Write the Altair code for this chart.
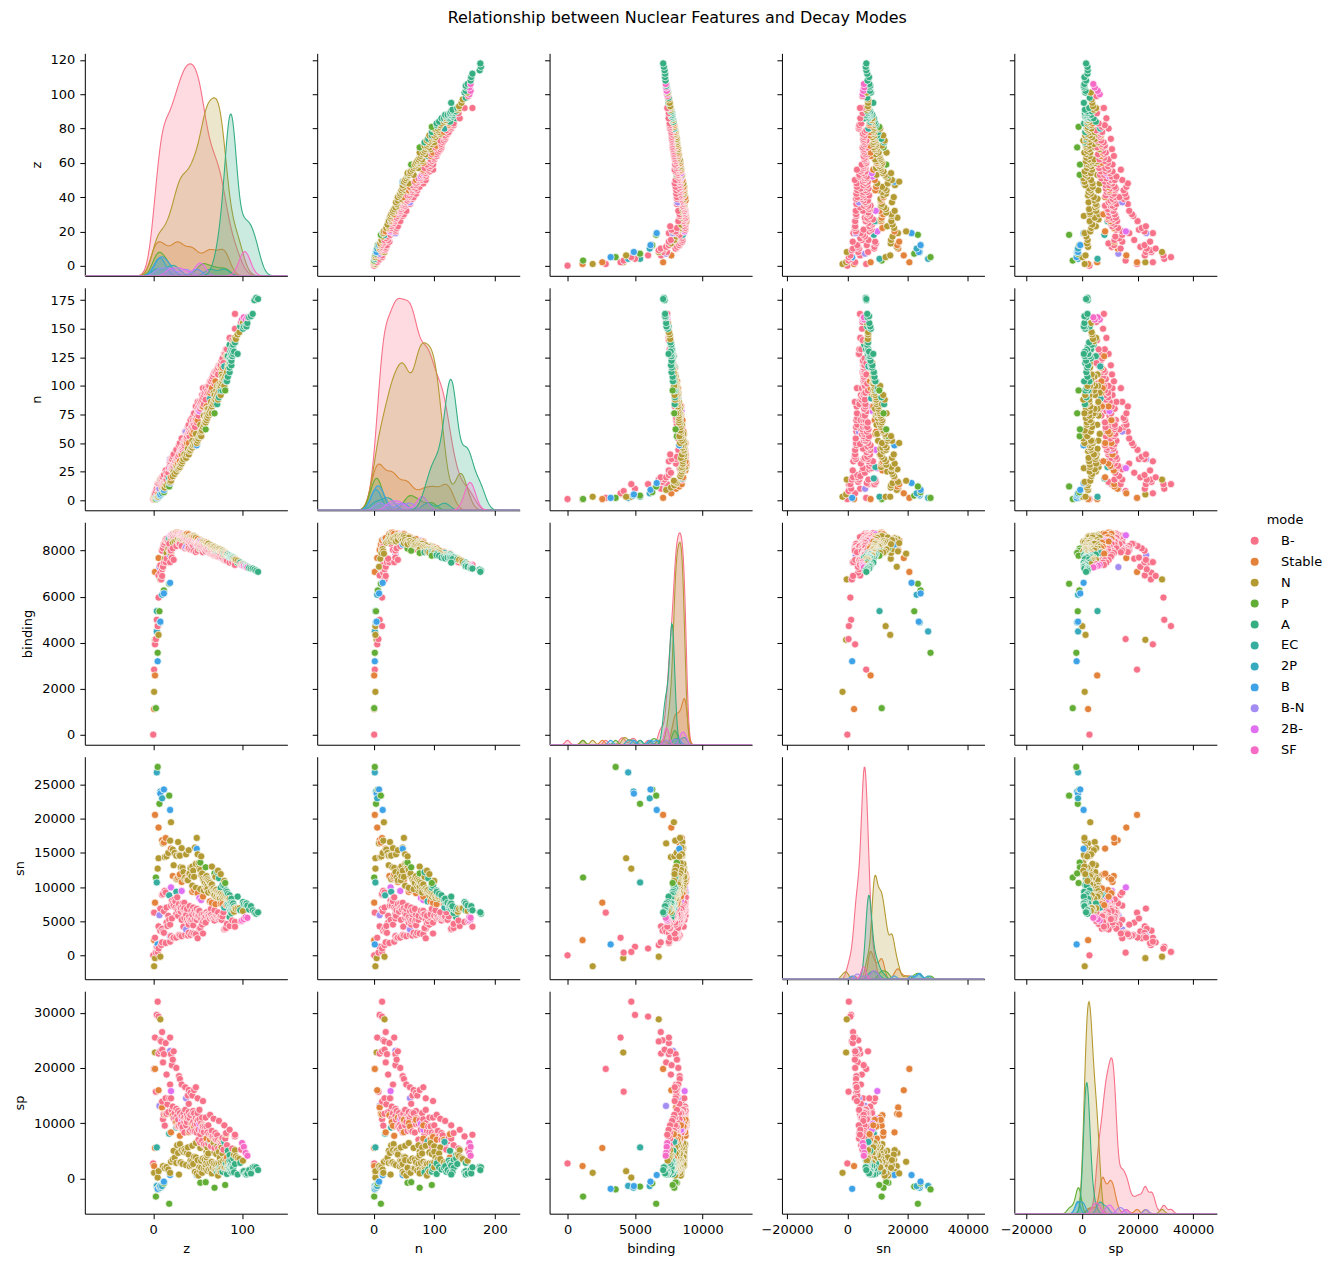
import altair as alt
import pandas as pd

# ---------------- data (values read/estimated from the reference picture) ----------------
# B-  (beta-minus emitters)
bm_z = [0, 1, 2, 3, 4, 5, 6, 8,
        10, 10, 11,
        11, 12, 12, 13, 14, 14, 15, 16, 17, 18,
        19, 20, 20, 21, 22, 22, 23, 24, 25, 26,
        26, 27, 28, 29, 29, 30, 30, 31, 32, 32,
        33, 34, 35, 36, 36, 37, 38, 39, 39, 40,
        40, 41, 42, 42, 43, 44, 44, 45, 46, 46,
        47, 48, 48, 49, 50, 50, 51, 52, 53, 54,
        55, 56, 56, 57, 58, 59, 60, 61, 62, 63,
        64, 65, 66, 67, 68, 69, 70, 71, 72, 73,
        74, 75, 77, 78, 80, 81, 82, 83, 86, 89,
        92, 92, 99,
        25, 27, 28, 31, 33, 34, 35, 37, 38, 41,
        43, 45, 47, 49, 51, 53, 55, 57, 59, 62,
        65, 69, 73, 76, 79,
        6, 8, 9, 10, 19, 21, 23, 15,
        35, 40, 45, 50, 52, 55]
bm_n = [1, 2, 6, 8, 10, 14, 14, 16,
        14, 20, 14,
        20, 15, 22, 16, 18, 26, 18, 21, 24, 28,
        32, 27, 36, 28, 30, 38, 30, 32, 34, 36,
        44, 34, 38, 40, 48, 42, 50, 44, 45, 54,
        46, 49, 52, 52, 60, 54, 56, 58, 64, 58,
        66, 60, 62, 70, 64, 64, 72, 68, 66, 76,
        70, 70, 82, 74, 76, 86, 78, 82, 84, 86,
        88, 90, 98, 92, 94, 98, 94, 96, 100, 100,
        104, 104, 106, 108, 110, 112, 112, 112, 114, 116,
        118, 118, 122, 124, 128, 128, 132, 132, 142, 140,
        150, 163, 156,
        32, 36, 37, 42, 44, 47, 48, 52, 54, 56,
        60, 62, 64, 68, 74, 80, 82, 84, 88, 94,
        96, 102, 110, 118, 120,
        10, 14, 18, 18, 34, 36, 40, 24,
        50, 62, 70, 80, 86, 92]
bm_binding = [0, 2827, 3925, 4155, 4994, 4720, 5960, 7040,
              7993, 6900, 8101,
              7300, 8264, 7500, 8348, 8482, 7500, 8514, 8460, 8400, 8300,
              8030, 8639, 8000, 8686, 8690, 8100, 8650, 8720, 8650, 8640,
              8200, 8756, 8740, 8700, 8300, 8690, 8300, 8660, 8650, 8200,
              8650, 8590, 8530, 8550, 8100, 8500, 8480, 8400, 8100, 8430,
              8100, 8400, 8370, 8050, 8330, 8390, 8050, 8310, 8390, 8000,
              8310, 8370, 7940, 8300, 8340, 8000, 8280, 8290, 8180, 8160,
              8120, 8100, 7930, 8050, 8040, 7970, 8070, 8020, 7960, 7960,
              7900, 7890, 7880, 7850, 7820, 7790, 7800, 7800, 7780, 7750,
              7740, 7740, 7690, 7690, 7590, 7600, 7580, 7560, 7480, 7500,
              7480, 7380, 7410,
              8700, 8700, 8730, 8680, 8680, 8640, 8610, 8580, 8560, 8550,
              8490, 8490, 8470, 8430, 8380, 8300, 8330, 8250, 8200, 8130,
              8100, 8000, 7880, 7820, 7800,
              6922, 7365, 6750, 7190, 7500, 7700, 7600, 7650,
              8560, 8280, 8220, 8250, 8100, 7990]
bm_sn = [0, 6257, 2574, 396, 1260, 500, 1000, 3610,
         8870, 1900, 9000,
         3500, 6443, 3300, 9440, 9200, 1800, 7000, 4300, 5800, 5200,
         4500, 7276, 2800, 8000, 7600, 2500, 7300, 8200, 7000, 6100,
         2600, 8500, 6600, 7500, 3000, 6700, 2900, 7000, 5200, 2800,
         7100, 4200, 5500, 6200, 3000, 5900, 5300, 4800, 2900, 5600,
         3300, 5200, 5000, 3000, 5200, 6000, 3300, 5000, 6300, 3200,
         5300, 6000, 3100, 5200, 6100, 2500, 6500, 6500, 4000, 5300,
         4700, 5000, 3200, 5400, 5500, 4800, 6300, 6000, 5700, 5800,
         5400, 5900, 5600, 5400, 5400, 5100, 5500, 5800, 5600, 5400,
         5300, 5500, 5200, 5700, 3800, 3900, 4000, 4600, 4300, 5100,
         4900, 4200, 5000,
         7900, 6800, 5800, 6400, 7600, 6700, 7700, 6100, 6800, 7200,
         6500, 7000, 6600, 6800, 5800, 5600, 6000, 6000, 5800, 6000,
         6800, 6600, 6300, 5700, 6300,
         4250, 6850, 1500, 3900, 2000, 5400, 2600, 4800,
         6900, 4500, 4400, 5700, 3900, 4500]
bm_sp = [2700, 19814, 25500, 15700, 29600, 32000, 29300, 25000,
         13900, 26500, 10700,
         21000, 11530, 22500, 9550, 14500, 24500, 11700, 13400, 12000, 14500,
         17000, 14500, 22500, 12300, 13000, 21500, 10900, 11800, 10900, 12600,
         20000, 9400, 12200, 9500, 18500, 11800, 18000, 9800, 11300, 17000,
         9300, 11700, 11000, 12400, 16500, 10600, 11500, 11000, 15000, 12000,
         16000, 10900, 11500, 15500, 9900, 11900, 15000, 10200, 11800, 16000,
         9800, 10900, 16500, 9900, 10500, 14500, 8800, 10700, 8000, 10000,
         8600, 9400, 14000, 8400, 9400, 11000, 9400, 8300, 9600, 8000,
         11500, 7900, 8600, 7600, 10800, 7500, 8200, 7000, 7800, 6900,
         10400, 6600, 6700, 7300, 9600, 7200, 8200, 6000, 8800, 5400,
         7600, 7900, 5200,
         10200, 11300, 10600, 9600, 9000, 10900, 8300, 9600, 10200, 8600,
         8900, 8600, 8500, 8300, 7000, 6500, 6800, 6200, 6000, 6300,
         5800, 5500, 5400, 6000, 5200,
         22600, 23000, 24800, 23300, 25500, 20500, 23000, 18800,
         10300, 13500, 12200, 11800, 12400, 11000]

# Stable
st_z = [1, 2, 2, 6, 10, 12, 14, 20, 22, 26, 28, 30, 32, 38, 40, 44, 46, 50, 56, 60,
        64, 66, 70, 76, 78, 82, 83]
st_n = [1, 1, 2, 6, 10, 12, 14, 20, 26, 30, 32, 34, 40, 50, 50, 58, 60, 70, 82, 82,
        94, 98, 104, 116, 116, 126, 126]
st_binding = [1112, 2573, 7074, 7680, 8032, 8261, 8448, 8551, 8723, 8790, 8781, 8736, 8732,
              8733, 8710, 8610, 8580, 8505, 8393, 8346, 8200, 8170, 8100, 7950, 7930, 7868, 7848]
st_sn = [2225, 7718, 20578, 18721, 16865, 16531, 17180, 15640, 11627, 11197, 11388, 11860,
         10750, 11113, 11970, 9300, 9560, 9100, 8600, 9800, 7900, 7700, 7500, 7560, 7500,
         7368, 7460]
st_sp = [2225, 5493, 19814, 15957, 12844, 11693, 11585, 8328, 11444, 10184, 9532, 7700,
         11000, 10600, 8355, 10000, 9400, 10600, 9600, 7200, 7000, 7500, 7000, 6800, 7000,
         8004, 3800]

# N
nn_z = [1, 2, 5, 6, 8, 11, 13, 15, 17,
        19, 20, 22, 24, 26, 28, 29, 30, 31, 32,
        33, 34, 36, 37, 38, 40, 41, 42, 43, 44,
        45, 46, 47, 48, 49, 50, 51, 52, 53, 54,
        54, 55, 56, 57, 58, 59, 60, 60, 61, 62,
        62, 63, 64, 65, 66, 66, 67, 68, 69, 70,
        70, 71, 72, 73, 73, 74, 75, 76, 76, 77,
        78, 79, 80, 80, 81, 82, 83, 84, 85, 86,
        91, 93, 95, 97, 101,
        23, 27, 30, 35, 39, 44, 48, 53, 57, 61,
        65, 68, 72, 77, 92,
        59, 60, 61, 69, 71, 74, 75, 78]
nn_n = [3, 5, 3, 3, 18, 9, 11, 13, 15,
        16, 17, 21, 23, 25, 27, 28, 29, 31, 32,
        34, 36, 38, 37, 40, 40, 43, 44, 46, 46,
        48, 50, 48, 52, 50, 52, 54, 56, 58, 56,
        60, 61, 64, 66, 68, 72, 70, 76, 72, 74,
        80, 76, 78, 80, 76, 82, 84, 86, 88, 84,
        88, 90, 92, 88, 94, 96, 98, 92, 100, 102,
        104, 106, 100, 106, 108, 110, 112, 116, 119, 120,
        139, 141, 145, 147, 155,
        25, 29, 33, 40, 45, 52, 58, 66, 74, 80,
        86, 94, 100, 110, 142,
        68, 74, 76, 92, 96, 100, 102, 108]
nn_binding = [1860, 4123, 4717, 4337, 6750, 7300, 7650, 7900, 8070,
              7970, 7870, 8350, 8410, 8460, 8500, 8400, 8470, 8520, 8530,
              8530, 8600, 8630, 8400, 8620, 8470, 8600, 8620, 8620, 8520,
              8580, 8630, 8430, 8570, 8330, 8460, 8380, 8410, 8400, 8280,
              8420, 8340, 8370, 8320, 8350, 8330, 8260, 8340, 8230, 8240,
              8300, 8210, 8210, 8170, 8050, 8170, 8140, 8120, 8080, 8000,
              8080, 8070, 8070, 7960, 8050, 8040, 8010, 7920, 8000, 7980,
              7970, 7940, 7890, 7930, 7890, 7890, 7840, 7820, 7790, 7760,
              7640, 7600, 7560, 7500, 7410,
              8530, 8700, 8690, 8650, 8640, 8600, 8560, 8460, 8380, 8290,
              8230, 8170, 8080, 7970, 7590,
              8240, 8280, 8300, 8150, 8110, 8080, 8050, 8000]
nn_sn = [-1600, -410, 12700, 14225, -200, 16400, 14400, 14500, 15000,
         16800, 19500, 15500, 15000, 14600, 16600, 14700, 14600, 12900, 15700,
         12800, 12200, 11400, 14800, 11000, 15400, 12000, 12800, 11600, 13000,
         12400, 11500, 15800, 13400, 17200, 14800, 13500, 12800, 12500, 14500,
         11800, 12000, 11200, 10900, 10600, 10100, 11600, 9700, 11200, 11000,
         9200, 10800, 10600, 10300, 13000, 10400, 9700, 9800, 9400, 11500,
         9600, 9600, 9300, 12400, 9200, 9100, 8900, 11900, 9000, 8700,
         8900, 8600, 10900, 8800, 8600, 8800, 8500, 8300, 8200, 8300,
         6400, 6800, 6900, 6900, 6500,
         13200, 11200, 11600, 11200, 11000, 10200, 9900, 9700, 9500, 9700,
         9400, 9000, 8800, 8600, 6900,
         11400, 10400, 10100, 8800, 8600, 8700, 8400, 8300]
nn_sp = [1000, 22800, 137, 1300, 28800, 2200, 1870, 2050, 1580,
         1000, 3000, 3400, 3700, 2800, 4600, 690, 2900, 2900, 5100,
         2600, 4800, 5000, 2400, 4600, 4300, 2200, 3200, 2400, 3100,
         2600, 3900, 1200, 3800, 900, 3300, 500, 2000, 1300, 1900,
         3200, 1000, 3600, 1800, 3400, 2500, 2900, 4800, 1400, 2600,
         4500, 1600, 2800, 1500, 900, 3000, 1900, 2700, 1600, 1500,
         2600, 1400, 2700, 500, 1500, 2700, 1600, 1200, 2900, 1800,
         3100, 2100, 2000, 3400, 2000, 3500, 1900, 2900, 2000, 2800,
         4300, 4000, 3700, 3500, 3200,
         5000, 6000, 6200, 5300, 5600, 5900, 6400, 5500, 6000, 5600,
         5900, 6400, 5800, 5600, 5100,
         1800, 3800, 4200, 4700, 4400, 4800, 3700, 4500]

# P
pp_z = [3, 5, 7, 12, 18, 53, 59, 69, 81]
pp_n = [1, 2, 4, 7, 12, 56, 62, 76, 96]
pp_binding = [1150, 3559, 5364, 6270, 6560, 8090, 8000, 7900, 7780]
pp_sn = [11400, 27600, 22200, 24300, 23400, 13600, 12900, 12000, 10600]
pp_sp = [-3300, -2000, -1490, -900, -4600, -800, -700, -1700, -1200]

# A
aa_z = [72, 74, 76, 78, 80, 82, 83, 84, 84, 85,
        86, 86, 86, 87, 87, 88, 88, 88, 89, 89,
        90, 90, 91, 92, 95, 98, 102, 104, 106, 108,
        110, 112, 114, 116, 118,
        86, 87, 88, 88, 89, 90, 101, 105]
aa_n = [84, 90, 96, 96, 98, 104, 104, 108, 126, 118,
        112, 124, 136, 120, 130, 118, 126, 132, 126, 134,
        128, 136, 130, 138, 128, 152, 152, 153, 155, 160,
        161, 163, 175, 177, 176,
        116, 124, 122, 128, 130, 132, 150, 152]
aa_binding = [7930, 7950, 7950, 7880, 7860, 7860, 7800, 7780, 7834, 7780,
              7700, 7780, 7695, 7720, 7720, 7660, 7740, 7730, 7690, 7690,
              7670, 7670, 7630, 7620, 7480, 7480, 7380, 7340, 7300, 7250,
              7220, 7220, 7180, 7130, 7080,
              7720, 7730, 7700, 7745, 7720, 7700, 7420, 7320]
aa_sn = [12200, 11300, 9900, 10300, 10200, 9500, 9300, 9000, 7600, 7800,
         8800, 7000, 5600, 7700, 6600, 8300, 7200, 6200, 7500, 6700,
         7600, 6600, 7200, 6900, 8600, 6600, 7500, 7400, 7300, 6700,
         7200, 6600, 6300, 6100, 6300,
         8200, 7300, 7700, 6800, 7000, 6900, 7800, 7600]
aa_sp = [1100, 1600, 2200, 1200, 1700, 2700, 800, 2000, 5000, 2200,
         1600, 3200, 4200, 1200, 2300, 2200, 2800, 3300, 1100, 2100,
         2300, 3600, 1100, 2600, 700, 2800, 1300, 800, 900, 1500,
         900, 2000, 2100, 2000, 1500,
         1900, 1700, 1500, 2500, 1800, 1900, 1200, 700]

# EC
ec_z = [4, 18, 26, 64, 80]
ec_n = [3, 19, 29, 89, 117]
ec_binding = [5371, 8527, 8747, 8180, 7890]
ec_sn = [10676, 8790, 9300, 7900, 7000]
ec_sp = [5606, 8100, 9200, 6700, 6600]

# 2P
tp_z = [4, 8, 10]
tp_n = [2, 4, 6]
tp_binding = [4487, 4880, 6083]
tp_sn = [26800, 24000, 23000]
tp_sp = [-1372, -1700, -1400]

# B
bb_z = [5, 8, 12, 19, 49]
bb_n = [2, 5, 9, 15, 48]
bb_binding = [3190, 4910, 6140, 6600, 8270]
bb_sn = [1600, 23700, 24300, 21300, 15600]
bb_sp = [-1900, -1400, -600, 600, 600]

# B-N
bn_z = [7, 19, 37]
bn_n = [10, 36, 60]
bn_binding = [7286, 7800, 8150]
bn_sn = [5883, 2800, 3800]
bn_sp = [13110, 23100, 14500]

# 2B-
db_z = [20, 32, 52, 54]
db_n = [28, 44, 78, 82]
db_binding = [8667, 8705, 8430, 8400]
db_sn = [9950, 9430, 8400, 8100]
db_sp = [15800, 10800, 9900, 8800]

# SF
sf_z = [100, 102, 104, 106]
sf_n = [158, 160, 158, 160]
sf_binding = [7380, 7340, 7300, 7270]
sf_sn = [5100, 5300, 5600, 5500]
sf_sp = [6400, 5700, 4600, 4100]

MODES = ["B-", "Stable", "N", "P", "A", "EC", "2P", "B", "B-N", "2B-", "SF"]
PALETTE = ["#f77189", "#e3823a", "#b49a32", "#62ad35", "#35ae82", "#36ad9f",
           "#38aabf", "#3ea3e6", "#a38cf2", "#e070f2", "#f56bc6"]
VARS = ["z", "n", "binding", "sn", "sp"]

groups = [
    ("B-", bm_z, bm_n, bm_binding, bm_sn, bm_sp),
    ("Stable", st_z, st_n, st_binding, st_sn, st_sp),
    ("N", nn_z, nn_n, nn_binding, nn_sn, nn_sp),
    ("P", pp_z, pp_n, pp_binding, pp_sn, pp_sp),
    ("A", aa_z, aa_n, aa_binding, aa_sn, aa_sp),
    ("EC", ec_z, ec_n, ec_binding, ec_sn, ec_sp),
    ("2P", tp_z, tp_n, tp_binding, tp_sn, tp_sp),
    ("B", bb_z, bb_n, bb_binding, bb_sn, bb_sp),
    ("B-N", bn_z, bn_n, bn_binding, bn_sn, bn_sp),
    ("2B-", db_z, db_n, db_binding, db_sn, db_sp),
    ("SF", sf_z, sf_n, sf_binding, sf_sn, sf_sp),
]
frames = []
for mode, zz, nn, bb, ss, pp in groups:
    frames.append(pd.DataFrame({"z": zz, "n": nn, "binding": bb, "sn": ss, "sp": pp, "mode": mode}))
df = pd.concat(frames, ignore_index=True).sort_values(["z", "n"], kind="mergesort").reset_index(drop=True)

COLOR_SCALE = alt.Scale(domain=MODES, range=PALETTE)

# ---------------- layout / axes ----------------
XDOM = {"z": [-77, 151], "n": [-93, 241], "binding": [-1330, 13660],
        "sn": [-21700, 45500], "sp": [-24300, 48500]}
YDOM = {"z": [-5.9, 123.9], "n": [-8.85, 185.85], "binding": [-440, 9235],
        "sn": [-3500, 29100], "sp": [-6400, 33900]}
XTICKS = {"z": [0, 100], "n": [0, 100, 200], "binding": [0, 5000, 10000],
          "sn": [-20000, 0, 20000, 40000], "sp": [-20000, 0, 20000, 40000]}
YTICKS = {"z": [0, 20, 40, 60, 80, 100, 120], "n": [0, 25, 50, 75, 100, 125, 150, 175],
          "binding": [0, 2000, 4000, 6000, 8000], "sn": [0, 5000, 10000, 15000, 20000, 25000],
          "sp": [0, 10000, 20000, 30000]}
BW = {"z": 6, "n": 9, "binding": 170, "sn": 800, "sp": 900}
W, H = 203, 223

LEGEND = alt.Legend(title="mode", orient="none", legendX=1166, legendY=462,
                    symbolType="circle", symbolSize=64, symbolStrokeWidth=0, symbolOpacity=1,
                    labelFontSize=13, titleFontSize=13, titleFontWeight="normal",
                    titleAnchor="middle", rowPadding=7, titlePadding=7, labelOffset=20,
                    labelFont="DejaVu Sans", titleFont="DejaVu Sans", padding=0)


def x_axis(var, show):
    if show:
        return alt.Axis(values=XTICKS[var], labels=True, title=var, format="d")
    return alt.Axis(values=XTICKS[var], labels=False, title=None, format="d")


def y_axis(var, show):
    if show:
        return alt.Axis(values=YTICKS[var], labels=True, title=var, format="d")
    return alt.Axis(values=YTICKS[var], labels=False, title=None, format="d")


def xscale(v):
    return alt.Scale(domain=XDOM[v], nice=False, zero=False)


def yscale(v):
    return alt.Scale(domain=YDOM[v], nice=False, zero=False)


panels = []
for i, r in enumerate(VARS):
    for j, c in enumerate(VARS):
        if i == j:
            dens = alt.Chart(df).transform_density(
                c, groupby=["mode"], extent=XDOM[c], counts=True, steps=320,
                bandwidth=BW[c], as_=["value", "density"]
            ).transform_joinaggregate(
                dmax="max(density)"
            ).transform_calculate(
                dn="datum.density / datum.dmax"
            ).mark_area(fillOpacity=0.25, strokeWidth=1.1, strokeOpacity=1, clip=True).encode(
                x=alt.X("value:Q", scale=xscale(c), axis=x_axis(c, i == 4)),
                y=alt.Y("dn:Q", stack=None,
                        scale=alt.Scale(domain=[0, 1.05], nice=False, zero=False), axis=None),
                color=alt.Color("mode:N", scale=COLOR_SCALE, legend=LEGEND),
                stroke=alt.Stroke("mode:N", scale=COLOR_SCALE, legend=None),
            )
            yl = alt.Chart(df).mark_point(opacity=0).encode(
                y=alt.Y(f"{r}:Q", scale=yscale(r), axis=y_axis(r, j == 0))
            )
            p = alt.layer(dens, yl).resolve_scale(y="independent").properties(width=W, height=H)
        else:
            p = alt.Chart(df).mark_circle(size=52, opacity=1, stroke="white", strokeWidth=0.7).encode(
                x=alt.X(f"{c}:Q", scale=xscale(c), axis=x_axis(c, i == 4)),
                y=alt.Y(f"{r}:Q", scale=yscale(r), axis=y_axis(r, j == 0)),
                color=alt.Color("mode:N", scale=COLOR_SCALE, legend=LEGEND),
            ).properties(width=W, height=H)
        panels.append(p)

chart = alt.concat(
    *panels, columns=5, spacing={"row": 12, "column": 29.9}, bounds="flush"
).properties(
    title=alt.Title("Relationship between Nuclear Features and Decay Modes", fontSize=16,
                    fontWeight="normal", font="DejaVu Sans", color="black", offset=27, dx=9,
                    anchor="middle"),
    padding={"left": 5, "right": 5, "top": 1, "bottom": 5},
).configure(
    font="DejaVu Sans"
).configure_view(
    stroke=None
).configure_axis(
    domainColor="black", tickColor="black", labelColor="black", titleColor="black",
    labelFont="DejaVu Sans", titleFont="DejaVu Sans", labelFontSize=13, titleFontSize=13,
    titleFontWeight="normal", tickSize=5, tickWidth=1, domainWidth=1, grid=False
).configure_axisX(
    labelPadding=5, titlePadding=6
).configure_axisY(
    labelPadding=5, titlePadding=7
)

chart.save("out.html", embed_options={"renderer": "svg", "actions": False})
